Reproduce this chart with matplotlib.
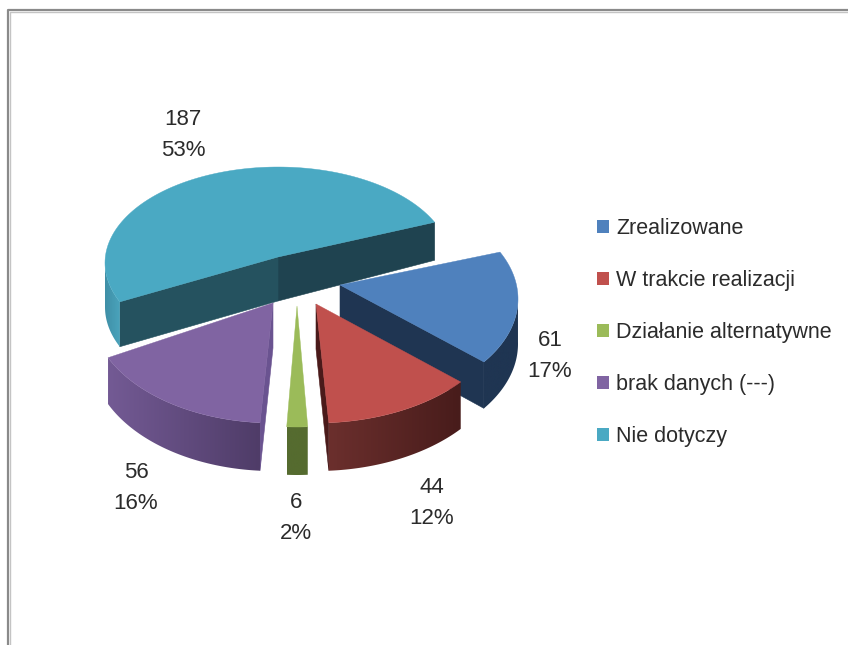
# wykres kolowy 3D - status dzialan
import numpy as np
import matplotlib
matplotlib.use('Agg')
import matplotlib.pyplot as plt
from matplotlib.colors import to_rgb
from matplotlib.patches import Polygon, Patch

categories = ['Zrealizowane', 'W trakcie realizacji', 'Działanie alternatywne', 'brak danych (---)', 'Nie dotyczy']
values = [61, 44, 6, 56, 187]

plt.rcParams['font.family'] = ['Liberation Sans Narrow', 'Liberation Sans', 'DejaVu Sans']

top_colors = ['#4F81BD', '#C0504D', '#9BBB59', '#8064A2', '#4AA9C3']
# kolor sciany bocznej: lewy koniec, prawy koniec
rim_colors = [('#1F3552', '#1F3552'), ('#6B2F2D', '#481C1B'), ('#556B2F', '#556B2F'),
              ('#735A94', '#4F3C68'), ('#3F8FA6', '#4AA3BC')]
# sciana przy koncu wycinka, sciana przy poczatku wycinka
wall_colors = [('#1F3552', None), ('#4A1A1A', None), (None, None), (None, '#6A5390'), ('#1F4350', '#25525F')]

# wierzcholek, srodek elipsy, rx, ry, przesuniecie kata, rozciagniecie
slices = [((340, 285), (340, 299), 178, 107, 0.0, 1.0),
          ((316, 304), (316, 308), 189, 115, -4.0, 1.03),
          ((297, 306), (297, 306), 175, 121, -5.7, 1.13),
          ((273, 303), (273, 310), 182, 113, -7.2, 1.07),
          ((278, 257), (278, 263), 173, 96, -12.3, 0.94)]
label_pos = [(550, 356), (432, 503), (296, 518), (136, 488), (183, 135)]
draw_order = [4, 0, 3, 2, 1]


def depth(y):
    return np.interp(y, [225, 257, 308, 422], [38, 44, 45, 48])


def rim(s, a):
    a = np.radians(a)
    return s[1][0] + s[2] * np.cos(a), s[1][1] - s[3] * np.sin(a)


fig = plt.figure(figsize=(8.48, 6.45), dpi=100)
ax = fig.add_axes([0, 0, 1, 1])
ax.axis('off')

# ramka
ax.plot([9.5, 9.5, 848], [645, 11.5, 11.5], color='#c4c4c4', lw=1.0)
ax.plot([8, 8, 848], [645, 10, 10], color='#8a8a8a', lw=1.6)

total = sum(values)
spans = [v / total * 360 for v in values]
starts = 26 - np.concatenate([[0], np.cumsum(spans)[:-1]])

for i in draw_order:
    s = slices[i]
    z = draw_order.index(i) * 3
    a0 = starts[i] + s[4]
    a1 = a0 - spans[i] * s[5]
    ang = np.linspace(a0, a1, 120)
    x, y = rim(s, ang)
    px, py = s[0]

    # sciany promieniowe
    for k, (ex, ey) in enumerate([(x[-1], y[-1]), (x[0], y[0])]):
        c = wall_colors[i][k]
        if c is None:
            continue
        ax.add_patch(Polygon([(px, py), (ex, ey), (ex, ey + depth(ey)), (px, py + depth(py))],
                             closed=True, fc=c, ec=c, lw=0.4, zorder=z + 1))

    # sciana zewnetrzna z gradientem, tylko widoczna czesc luku
    vis = np.where(np.sin(np.radians(ang)) <= 0.02)[0]
    if len(vis) > 1:
        vx, vy = x[vis], y[vis]
        outline = list(zip(vx, vy)) + list(zip(vx[::-1], vy[::-1] + depth(vy[::-1])))
        c0, c1 = np.array(to_rgb(rim_colors[i][0])), np.array(to_rgb(rim_colors[i][1]))
        grad = np.linspace(c0, c1, 64)[np.newaxis, :, :]
        ymin, ymax = min(p[1] for p in outline), max(p[1] for p in outline)
        im = ax.imshow(grad, extent=(vx.min(), vx.max(), ymax, ymin), aspect='auto', zorder=z + 2)
        clip = Polygon(outline, closed=True, fc='none', ec='none', transform=ax.transData)
        ax.add_patch(clip)
        im.set_clip_path(clip)

    # gorna powierzchnia
    pts = [(px, py)] + list(zip(x, y))
    ax.add_patch(Polygon(pts, closed=True, fc=top_colors[i], ec=top_colors[i], lw=0.3, zorder=z + 3))

    pct = round(values[i] / total * 100)
    ax.text(label_pos[i][0], label_pos[i][1], '%d\n%d%%' % (values[i], pct), ha='center', va='center',
            fontsize=16, linespacing=1.65, color='#2b2b2b', zorder=50)

ax.set_xlim(0, 848)
ax.set_ylim(645, 0)

handles = [Patch(fc=c, ec='none') for c in top_colors]
ax.legend(handles, categories, loc='upper left', bbox_to_anchor=(597 / 848, 1 - 218 / 645), frameon=False,
          fontsize=15.5, labelspacing=1.44, handlelength=0.56, handleheight=0.56, handletextpad=0.33,
          borderpad=0, borderaxespad=0, labelcolor='#2b2b2b')

plt.savefig('out.png', dpi=100)
